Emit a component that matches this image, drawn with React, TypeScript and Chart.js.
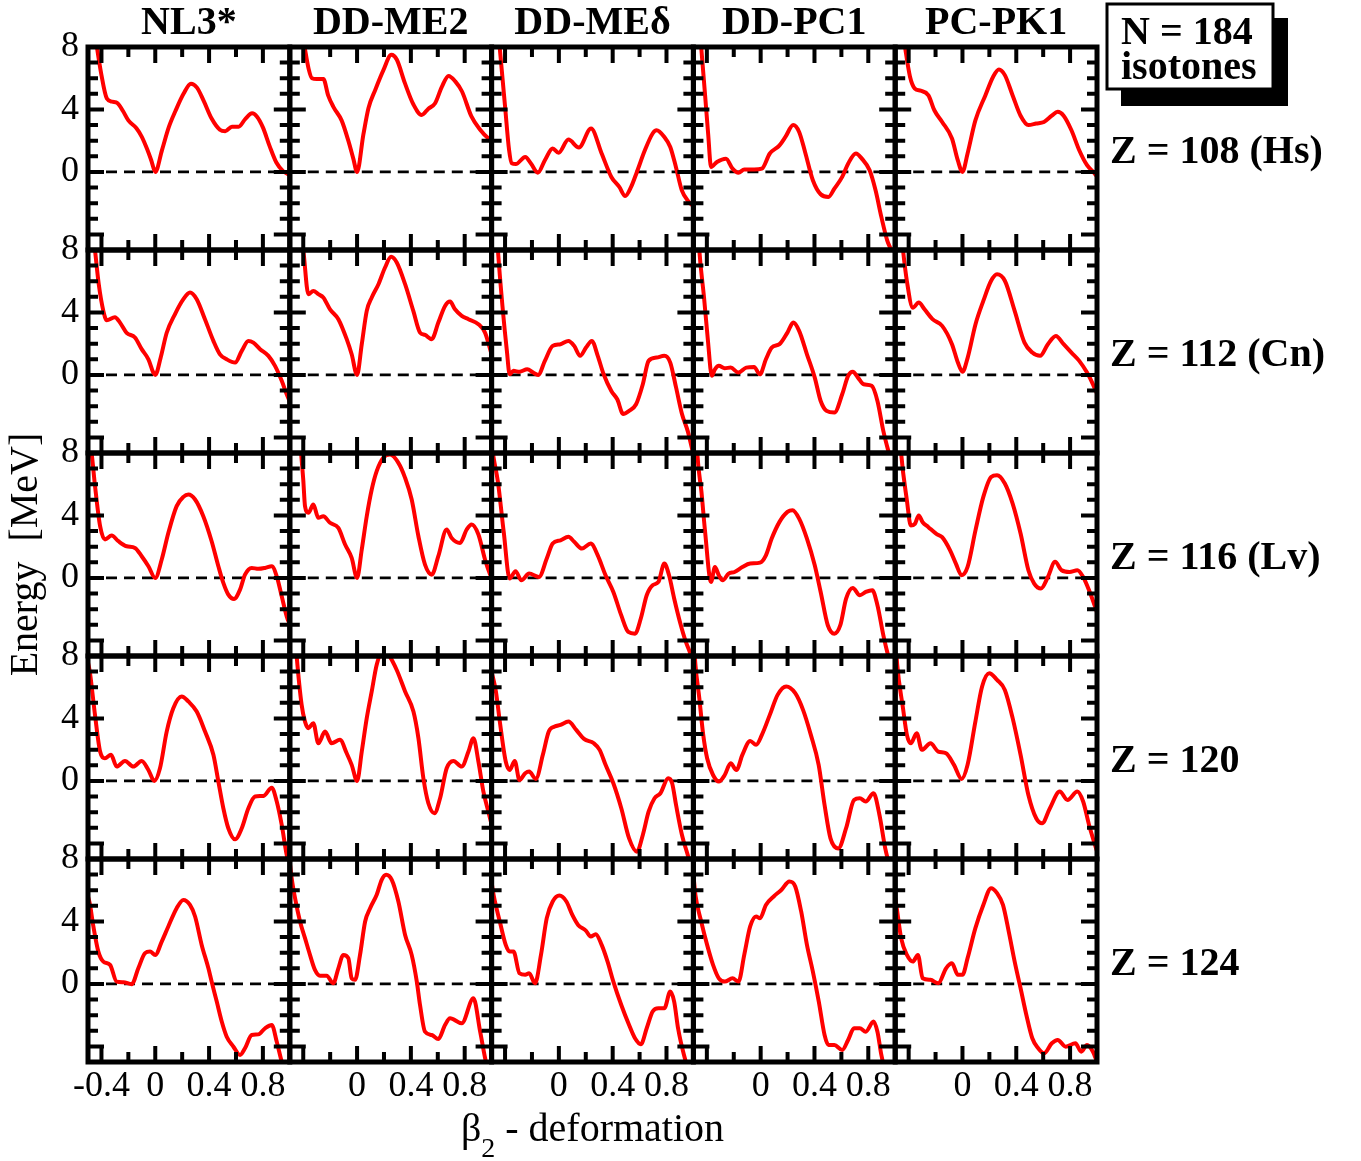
import React, { useEffect, useRef } from 'react';
import { Chart, registerables } from 'chart.js';

Chart.register(...registerables);

type Pt = [number, number];

const SERIF = "'Liberation Serif', 'Times New Roman', Times, serif";

const MODELS = ['NL3*', 'DD-ME2', 'DD-MEδ', 'DD-PC1', 'PC-PK1'];
const ISOTONES = ['Z = 108 (Hs)', 'Z = 112 (Cn)', 'Z = 116 (Lv)', 'Z = 120', 'Z = 124'];
const LEGEND_LINES = ['N = 184', 'isotones'];
const Y_TITLE = 'Energy  [MeV]';
const X_TITLE_MAIN = 'β';
const X_TITLE_SUB = '2';
const X_TITLE_REST = ' - deformation';

const X_MIN = -0.5;
const X_MAX = 1.0;
const Y_MIN = -5;
const Y_MAX = 8;
const X_TICK_LABELS_FIRST = [-0.4, 0, 0.4, 0.8];
const X_TICK_LABELS = [0, 0.4, 0.8];
const Y_TICK_LABELS = [0, 4, 8];
const X_MAJOR = [-0.4, 0, 0.4, 0.8];
const X_MINOR = [-0.2, 0.2, 0.6];
const Y_MAJOR = [-4, 0, 4];
const Y_MINOR = [-3, -2, -1, 1, 2, 3, 5, 6, 7];

// ---- Z = 108 ----
const nl3_108: Pt[] = [[-0.5, 12.5], [-0.45, 9.0], [-0.4, 6.2], [-0.36, 4.7], [-0.32, 4.5], [-0.28, 4.4], [-0.24, 3.9], [-0.2, 3.3], [-0.14, 2.8], [-0.1, 2.25], [-0.06, 1.45], [-0.03, 0.75], [0, 0], [0.05, 1.4], [0.1, 2.85], [0.15, 3.9], [0.21, 5.0], [0.265, 5.65], [0.31, 5.4], [0.36, 4.55], [0.42, 3.4], [0.48, 2.7], [0.52, 2.6], [0.57, 2.9], [0.62, 2.9], [0.67, 3.4], [0.72, 3.75], [0.755, 3.55], [0.8, 2.85], [0.85, 1.65], [0.9, 0.6], [0.95, 0.05], [1.0, -0.2]];
const me2_108: Pt[] = [[-0.5, 14], [-0.44, 10.5], [-0.39, 8], [-0.36, 6.6], [-0.335, 6.0], [-0.3, 5.95], [-0.25, 5.95], [-0.215, 4.9], [-0.175, 4.15], [-0.115, 3.3], [-0.065, 2.0], [-0.028, 0.85], [0, 0], [0.047, 2.4], [0.085, 4.1], [0.135, 5.25], [0.195, 6.5], [0.255, 7.5], [0.295, 7.2], [0.355, 5.7], [0.42, 4.3], [0.48, 3.65], [0.53, 4.05], [0.58, 4.4], [0.63, 5.45], [0.68, 6.15], [0.73, 5.8], [0.78, 5.15], [0.85, 3.55], [0.915, 2.7], [0.975, 2.15], [1.0, 2.0]];
const med_108: Pt[] = [[-0.5, 14], [-0.44, 8], [-0.4, 4.2], [-0.37, 1.4], [-0.35, 0.55], [-0.32, 0.5], [-0.25, 0.96], [-0.205, 0.5], [-0.156, -0.05], [-0.104, 0.75], [-0.046, 1.5], [-0.002, 1.22], [0.071, 2.07], [0.149, 1.56], [0.239, 2.78], [0.318, 1.18], [0.39, -0.32], [0.449, -0.96], [0.493, -1.54], [0.537, -0.96], [0.58, 0], [0.64, 1.4], [0.697, 2.46], [0.726, 2.67], [0.784, 2.24], [0.828, 1.6], [0.87, 0.32], [0.914, -1.18], [0.964, -1.9], [1.0, -2.2]];
const pc1_108: Pt[] = [[-0.5, 14], [-0.442, 8], [-0.413, 4.9], [-0.39, 2.4], [-0.369, 0.32], [-0.325, 0.64], [-0.258, 0.85], [-0.209, 0.21], [-0.165, -0.05], [-0.122, 0.15], [-0.049, 0.15], [0.009, 0.21], [0.068, 1.18], [0.14, 1.7], [0.184, 2.24], [0.242, 3.0], [0.286, 2.56], [0.33, 1.28], [0.388, -0.53], [0.446, -1.43], [0.504, -1.6], [0.548, -1.07], [0.606, -0.32], [0.65, 0.53], [0.708, 1.18], [0.752, 0.85], [0.81, 0.1], [0.854, -1.18], [0.897, -2.88], [0.941, -4.4], [0.97, -5.0], [1.0, -5.8]];
const pk1_108: Pt[] = [[-0.5, 12.5], [-0.427, 8], [-0.39, 6.1], [-0.354, 5.34], [-0.311, 5.2], [-0.253, 4.9], [-0.209, 3.95], [-0.151, 3.2], [-0.078, 2.14], [-0.035, 0.75], [0, 0], [0.038, 1.18], [0.096, 3.3], [0.17, 4.9], [0.228, 6.1], [0.271, 6.56], [0.315, 6.2], [0.373, 4.9], [0.432, 3.6], [0.49, 3.0], [0.548, 3.1], [0.606, 3.2], [0.664, 3.6], [0.708, 3.85], [0.752, 3.6], [0.81, 2.67], [0.868, 1.39], [0.926, 0.43], [0.979, -0.06], [1.0, -0.3]];

// ---- Z = 112 ----
const nl3_112: Pt[] = [[-0.5, 12], [-0.448, 8], [-0.42, 5.8], [-0.386, 4.1], [-0.361, 3.5], [-0.3, 3.7], [-0.262, 3.35], [-0.213, 2.7], [-0.151, 2.4], [-0.101, 1.65], [-0.051, 1.0], [-0.014, 0.15], [0, 0], [0.04, 1.1], [0.085, 2.7], [0.147, 3.9], [0.209, 4.85], [0.258, 5.28], [0.308, 4.85], [0.37, 3.55], [0.432, 2.18], [0.481, 1.32], [0.531, 1.0], [0.593, 0.79], [0.643, 1.54], [0.692, 2.18], [0.729, 2.07], [0.779, 1.65], [0.841, 1.22], [0.89, 0.58], [0.94, -0.38], [0.977, -1.24], [1.0, -1.7]];
const me2_112: Pt[] = [[-0.5, 14], [-0.45, 10.5], [-0.4, 8], [-0.362, 5.17], [-0.325, 5.38], [-0.288, 5.17], [-0.251, 4.96], [-0.201, 4.2], [-0.139, 3.57], [-0.077, 2.29], [-0.04, 1.32], [0, 0], [0.035, 1.97], [0.072, 4.1], [0.109, 4.96], [0.159, 5.81], [0.208, 6.88], [0.253, 7.56], [0.295, 7.2], [0.357, 5.81], [0.418, 4.1], [0.468, 2.71], [0.505, 2.56], [0.555, 2.29], [0.604, 3.35], [0.654, 4.42], [0.691, 4.7], [0.728, 4.2], [0.778, 3.78], [0.828, 3.57], [0.902, 3.25], [0.951, 2.71], [0.989, 1.65], [1.0, 1.3]];
const med_112: Pt[] = [[-0.5, 15], [-0.453, 8], [-0.416, 4.1], [-0.386, 1.5], [-0.366, 0.04], [-0.337, 0.26], [-0.293, 0.2], [-0.235, 0.36], [-0.191, 0.15], [-0.154, 0], [-0.104, 0.9], [-0.046, 1.86], [0.012, 1.97], [0.071, 2.18], [0.114, 1.86], [0.158, 1.22], [0.202, 1.75], [0.245, 2.18], [0.289, 1.22], [0.333, 0.04], [0.39, -1.03], [0.434, -1.56], [0.478, -2.5], [0.522, -2.3], [0.574, -1.88], [0.624, -0.6], [0.667, 0.9], [0.726, 1.11], [0.784, 1.22], [0.828, 0.79], [0.871, -0.8], [0.915, -2.5], [0.958, -3.6], [1.0, -5.1]];
const pc1_112: Pt[] = [[-0.5, 15], [-0.456, 8], [-0.421, 4.96], [-0.392, 2.2], [-0.363, -0.06], [-0.34, 0.36], [-0.311, 0.58], [-0.267, 0.43], [-0.223, 0.47], [-0.165, 0.15], [-0.107, 0.47], [-0.049, 0.51], [-0.006, 0.04], [0.039, 1.0], [0.082, 1.75], [0.14, 1.97], [0.199, 2.71], [0.242, 3.35], [0.286, 2.82], [0.344, 1.32], [0.402, -0.17], [0.446, -1.67], [0.49, -2.3], [0.548, -2.41], [0.606, -1.24], [0.65, -0.06], [0.685, 0.21], [0.723, -0.17], [0.766, -0.6], [0.825, -0.7], [0.868, -1.67], [0.912, -3.6], [0.956, -5.1], [1.0, -6.5]];
const pk1_112: Pt[] = [[-0.5, 13], [-0.442, 8], [-0.413, 6.0], [-0.369, 4.3], [-0.325, 4.64], [-0.282, 4.2], [-0.223, 3.57], [-0.151, 3.14], [-0.078, 1.97], [-0.034, 0.79], [0, 0.2], [0.039, 1.11], [0.097, 3.25], [0.155, 4.74], [0.213, 6.03], [0.257, 6.45], [0.315, 6.03], [0.388, 4.1], [0.461, 2.07], [0.519, 1.43], [0.577, 1.22], [0.635, 1.97], [0.694, 2.5], [0.752, 1.97], [0.81, 1.43], [0.868, 0.9], [0.926, 0.15], [0.97, -0.6], [1.0, -1.2]];

// ---- Z = 116 ----
const nl3_116: Pt[] = [[-0.5, 9.6], [-0.473, 8], [-0.448, 5.9], [-0.41, 3.31], [-0.374, 2.46], [-0.324, 2.71], [-0.274, 2.35], [-0.213, 2.03], [-0.151, 1.92], [-0.101, 1.39], [-0.051, 0.75], [0, 0], [0.048, 1.18], [0.097, 2.88], [0.159, 4.6], [0.209, 5.19], [0.246, 5.34], [0.296, 5.02], [0.357, 3.95], [0.419, 2.35], [0.469, 0.75], [0.506, -0.32], [0.543, -1.07], [0.585, -1.35], [0.63, -0.75], [0.667, 0.21], [0.717, 0.64], [0.766, 0.58], [0.816, 0.64], [0.866, 0.75], [0.903, 0.1], [0.94, -1.18], [0.977, -2.46], [1.0, -3.0]];
const me2_116: Pt[] = [[-0.5, 20], [-0.45, 11.5], [-0.416, 8], [-0.4, 6.3], [-0.387, 4.6], [-0.362, 4.17], [-0.325, 4.7], [-0.288, 3.85], [-0.251, 3.95], [-0.201, 3.53], [-0.139, 3.2], [-0.089, 2.14], [-0.04, 1.28], [0, 0], [0.035, 1.82], [0.072, 3.95], [0.109, 5.66], [0.146, 6.84], [0.195, 7.7], [0.245, 7.9], [0.307, 7.37], [0.357, 6.41], [0.406, 5.02], [0.456, 2.67], [0.505, 0.85], [0.555, 0.21], [0.604, 1.39], [0.666, 3.1], [0.703, 2.56], [0.765, 2.24], [0.815, 3.1], [0.852, 3.42], [0.902, 2.78], [0.951, 1.18], [0.989, 0.21], [1.0, 0]];
const med_116: Pt[] = [[-0.5, 8.5], [-0.483, 7.6], [-0.453, 6.15], [-0.41, 2.95], [-0.366, -0.04], [-0.322, 0.43], [-0.279, -0.15], [-0.221, 0.28], [-0.148, 0.06], [-0.09, 1.24], [-0.046, 2.2], [0.012, 2.41], [0.071, 2.63], [0.114, 2.31], [0.172, 1.88], [0.237, 2.2], [0.289, 1.45], [0.347, 0.17], [0.405, -0.9], [0.464, -2.4], [0.516, -3.46], [0.566, -3.57], [0.609, -2.6], [0.653, -1.11], [0.697, -0.47], [0.74, -0.26], [0.784, 0.92], [0.819, 0.17], [0.857, -1.32], [0.9, -2.82], [0.944, -4.1], [0.973, -4.74], [1.0, -5.4]];
const pc1_116: Pt[] = [[-0.5, 14], [-0.471, 8], [-0.44, 5.5], [-0.413, 2.95], [-0.369, -0.26], [-0.34, 0.7], [-0.311, 0.17], [-0.282, -0.15], [-0.238, 0.28], [-0.194, 0.38], [-0.136, 0.7], [-0.078, 0.92], [-0.005, 0.98], [0.039, 1.45], [0.082, 2.52], [0.14, 3.59], [0.199, 4.23], [0.237, 4.34], [0.286, 3.8], [0.344, 2.52], [0.402, 0.81], [0.446, -0.9], [0.499, -3.03], [0.548, -3.57], [0.592, -3.03], [0.635, -1.32], [0.685, -0.64], [0.737, -1.11], [0.781, -0.9], [0.83, -0.79], [0.868, -1.75], [0.912, -3.68], [0.947, -4.96], [1.0, -6.5]];
const pk1_116: Pt[] = [[-0.5, 14], [-0.456, 8], [-0.413, 4.96], [-0.384, 3.36], [-0.354, 3.46], [-0.325, 4.0], [-0.296, 3.57], [-0.253, 3.25], [-0.194, 2.82], [-0.151, 2.61], [-0.092, 1.77], [-0.049, 0.92], [-0.006, 0.17], [0.038, 0.7], [0.097, 3.06], [0.155, 5.19], [0.213, 6.47], [0.257, 6.58], [0.315, 6.05], [0.373, 4.76], [0.432, 2.84], [0.49, 0.49], [0.533, -0.36], [0.583, -0.68], [0.635, 0.06], [0.688, 1.03], [0.737, 0.49], [0.796, 0.38], [0.854, 0.49], [0.897, 0.06], [0.941, -0.79], [0.985, -1.82], [1.0, -2.2]];

// ---- Z = 120 ----
const nl3_120: Pt[] = [[-0.5, 7.6], [-0.485, 6.9], [-0.448, 4.23], [-0.41, 1.88], [-0.374, 1.45], [-0.329, 1.67], [-0.287, 0.92], [-0.225, 1.28], [-0.163, 0.92], [-0.101, 1.28], [-0.051, 0.7], [-0.007, 0], [0.035, 0.81], [0.085, 3.16], [0.134, 4.66], [0.196, 5.41], [0.246, 5.09], [0.308, 4.44], [0.37, 3.16], [0.432, 1.67], [0.469, -0.04], [0.506, -1.75], [0.543, -3.03], [0.593, -3.74], [0.643, -3.03], [0.692, -1.75], [0.742, -1.0], [0.804, -0.96], [0.866, -0.43], [0.903, -1.32], [0.94, -2.82], [0.977, -4.74], [1.0, -5.5]];
const me2_120: Pt[] = [[-0.5, 14], [-0.449, 8], [-0.412, 4.87], [-0.387, 3.8], [-0.362, 3.38], [-0.325, 3.7], [-0.288, 2.41], [-0.238, 3.16], [-0.189, 2.41], [-0.127, 2.63], [-0.077, 1.77], [-0.04, 1.03], [0, 0], [0.035, 1.88], [0.072, 4.02], [0.109, 5.73], [0.146, 7.44], [0.19, 8.3], [0.232, 8.1], [0.294, 7.12], [0.357, 5.73], [0.419, 4.44], [0.456, 2.74], [0.493, 0.17], [0.53, -1.43], [0.575, -2.07], [0.617, -1.11], [0.666, 0.81], [0.716, 1.28], [0.778, 0.92], [0.828, 1.88], [0.865, 2.74], [0.902, 1.24], [0.939, -0.68], [0.976, -1.97], [1.0, -2.8]];
const med_120: Pt[] = [[-0.5, 7.0], [-0.468, 5.73], [-0.439, 3.8], [-0.395, 1.24], [-0.366, 0.7], [-0.328, 1.28], [-0.293, 0.06], [-0.25, 0.49], [-0.221, 0.6], [-0.171, 0.13], [-0.119, 1.67], [-0.075, 3.16], [-0.031, 3.48], [0.012, 3.59], [0.071, 3.8], [0.129, 3.27], [0.187, 2.69], [0.26, 2.41], [0.303, 1.99], [0.347, 1.03], [0.405, -0.15], [0.464, -1.75], [0.522, -3.68], [0.58, -4.53], [0.624, -3.46], [0.667, -1.97], [0.711, -1.11], [0.755, -0.79], [0.813, 0.17], [0.842, -0.15], [0.871, -1.54], [0.915, -3.46], [0.958, -4.74], [1.0, -6]];
const pc1_120: Pt[] = [[-0.5, 9.5], [-0.485, 7.44], [-0.456, 5.3], [-0.427, 2.95], [-0.398, 1.45], [-0.354, 0.38], [-0.311, -0.04], [-0.267, 0.38], [-0.223, 1.13], [-0.18, 0.7], [-0.136, 1.67], [-0.078, 2.56], [-0.034, 2.31], [0.009, 2.95], [0.068, 4.23], [0.126, 5.51], [0.19, 6.05], [0.257, 5.62], [0.315, 4.55], [0.373, 2.95], [0.431, 1.03], [0.475, -1.54], [0.519, -3.68], [0.577, -4.32], [0.635, -3.03], [0.694, -1.22], [0.737, -1.11], [0.781, -1.32], [0.839, -0.79], [0.883, -2.18], [0.926, -4.32], [0.956, -5.38], [1.0, -7]];
const pk1_120: Pt[] = [[-0.5, 9.5], [-0.485, 7.44], [-0.442, 4.66], [-0.413, 2.95], [-0.384, 2.41], [-0.34, 3.06], [-0.302, 1.99], [-0.238, 2.41], [-0.18, 1.88], [-0.122, 1.77], [-0.063, 1.03], [-0.006, 0.13], [0.038, 1.03], [0.096, 3.8], [0.146, 6.05], [0.199, 6.9], [0.257, 6.47], [0.315, 5.83], [0.373, 4.02], [0.432, 1.67], [0.49, -0.9], [0.548, -2.39], [0.592, -2.71], [0.65, -1.75], [0.723, -0.68], [0.781, -1.22], [0.854, -0.68], [0.897, -1.32], [0.941, -2.82], [0.985, -4.1], [1.0, -4.5]];

// ---- Z = 124 ----
const nl3_124: Pt[] = [[-0.5, 5.6], [-0.485, 5.06], [-0.46, 3.68], [-0.423, 2.07], [-0.386, 1.43], [-0.336, 1.22], [-0.287, 0.15], [-0.237, 0.11], [-0.175, -0.02], [-0.126, 1.0], [-0.076, 1.97], [-0.039, 2.07], [0, 1.86], [0.048, 2.71], [0.097, 3.68], [0.159, 4.85], [0.209, 5.38], [0.258, 5.06], [0.296, 4.32], [0.345, 2.5], [0.395, 1.0], [0.419, 0.15], [0.457, -1.13], [0.494, -2.41], [0.531, -3.38], [0.581, -4.02], [0.63, -4.55], [0.667, -4.12], [0.717, -3.27], [0.766, -3.23], [0.816, -2.84], [0.866, -2.63], [0.903, -3.7], [0.94, -4.98], [1.0, -6.5]];
const me2_124: Pt[] = [[-0.5, 7.8], [-0.486, 6.77], [-0.461, 5.49], [-0.424, 4.0], [-0.387, 2.93], [-0.35, 1.86], [-0.313, 0.9], [-0.276, 0.53], [-0.226, 0.53], [-0.177, 0.04], [-0.139, 1.0], [-0.102, 1.86], [-0.065, 1.65], [-0.04, 0.36], [-0.015, 0.26], [0.022, 1.86], [0.06, 4.0], [0.097, 4.85], [0.146, 5.71], [0.183, 6.67], [0.216, 6.99], [0.258, 6.67], [0.307, 5.28], [0.357, 3.14], [0.406, 1.86], [0.444, 0.15], [0.468, -1.35], [0.505, -3.06], [0.555, -3.27], [0.604, -3.53], [0.654, -2.63], [0.691, -2.2], [0.778, -2.52], [0.865, -0.92], [0.915, -3.06], [0.952, -4.76], [1.0, -6.5]];
const med_124: Pt[] = [[-0.5, 6.5], [-0.483, 5.6], [-0.439, 4.0], [-0.395, 2.5], [-0.366, 2.07], [-0.337, 2.07], [-0.293, 0.68], [-0.25, 0.58], [-0.221, 0.68], [-0.177, 0.04], [-0.133, 1.86], [-0.09, 4.21], [-0.046, 5.28], [0.004, 5.66], [0.056, 5.28], [0.1, 4.42], [0.143, 3.78], [0.202, 3.4], [0.237, 3.03], [0.274, 3.18], [0.318, 2.5], [0.362, 1.43], [0.405, 0.15], [0.464, -1.35], [0.522, -2.63], [0.566, -3.48], [0.609, -3.87], [0.653, -2.84], [0.697, -1.77], [0.74, -1.56], [0.784, -1.56], [0.828, -0.49], [0.857, -1.13], [0.886, -2.84], [0.93, -4.55], [1.0, -6.5]];
const pc1_124: Pt[] = [[-0.5, 7], [-0.485, 5.7], [-0.442, 4.0], [-0.398, 2.5], [-0.354, 1.22], [-0.311, 0.36], [-0.267, 0.15], [-0.209, 0.36], [-0.165, 0.15], [-0.122, 1.86], [-0.078, 3.68], [-0.034, 4.32], [-0.005, 4.21], [0.039, 5.06], [0.097, 5.6], [0.155, 6.03], [0.213, 6.56], [0.257, 6.24], [0.301, 4.64], [0.344, 2.5], [0.388, 0.79], [0.432, -1.13], [0.475, -3.27], [0.504, -3.91], [0.548, -3.91], [0.606, -4.23], [0.65, -3.59], [0.694, -2.84], [0.737, -2.84], [0.781, -3.06], [0.839, -2.41], [0.868, -3.06], [0.897, -4.55], [1.0, -8]];
const pk1_124: Pt[] = [[-0.5, 5.5], [-0.485, 4.64], [-0.456, 2.93], [-0.413, 1.86], [-0.369, 1.43], [-0.331, 1.86], [-0.296, 0.36], [-0.238, 0.26], [-0.18, 0.04], [-0.122, 1.0], [-0.078, 1.32], [-0.034, 0.58], [0, 0.58], [0.038, 1.65], [0.096, 3.57], [0.155, 5.06], [0.213, 6.13], [0.257, 5.81], [0.301, 5.06], [0.344, 3.35], [0.388, 1.43], [0.432, -0.28], [0.475, -1.99], [0.519, -3.48], [0.563, -4.12], [0.606, -4.44], [0.664, -3.8], [0.708, -3.59], [0.767, -4.02], [0.839, -3.8], [0.883, -4.34], [0.926, -3.91], [0.97, -4.34], [1.0, -5.0]];

const CURVES: Pt[][][] = [
  [nl3_108, me2_108, med_108, pc1_108, pk1_108],
  [nl3_112, me2_112, med_112, pc1_112, pk1_112],
  [nl3_116, me2_116, med_116, pc1_116, pk1_116],
  [nl3_120, me2_120, med_120, pc1_120, pk1_120],
  [nl3_124, me2_124, med_124, pc1_124, pk1_124],
];

const NROWS = ISOTONES.length;
const NCOLS = MODELS.length;

const fmtTick = (v: number) => (v === 0 ? '0' : String(Math.round(v * 10) / 10));

function buildScales() {
  const scales: any = {};
  for (let c = 0; c < NCOLS; c++) {
    const labels = c === 0 ? X_TICK_LABELS_FIRST : X_TICK_LABELS;
    scales['x' + c] = {
      type: 'linear',
      axis: 'x',
      position: 'bottom',
      stack: 'cols',
      stackWeight: 1,
      weight: c,
      min: X_MIN,
      max: X_MAX,
      offset: false,
      grid: { display: false, drawTicks: false },
      border: { display: false },
      ticks: {
        color: '#000',
        font: { family: SERIF, size: 36 },
        padding: 3,
        autoSkip: false,
        maxRotation: 0,
        minRotation: 0,
        callback: (v: any) => fmtTick(Number(v)),
      },
      afterBuildTicks: (s: any) => {
        s.ticks = labels.map((v) => ({ value: v }));
      },
      afterFit: (s: any) => {
        s.height = 99;
      },
    };
  }
  for (let r = 0; r < NROWS; r++) {
    scales['y' + r] = {
      type: 'linear',
      axis: 'y',
      position: 'left',
      stack: 'rows',
      stackWeight: 1,
      weight: 10 - r,
      min: Y_MIN,
      max: Y_MAX,
      grid: { display: false, drawTicks: false },
      border: { display: false },
      ticks: {
        color: '#000',
        font: { family: SERIF, size: 36 },
        padding: 9,
        autoSkip: false,
        callback: (v: any) => fmtTick(Number(v)),
      },
      afterBuildTicks: (s: any) => {
        s.ticks = Y_TICK_LABELS.map((v) => ({ value: v }));
      },
      afterFit: (s: any) => {
        s.width = 88;
      },
    };
  }
  return scales;
}

function buildDatasets() {
  const ds: any[] = [];
  for (let r = 0; r < NROWS; r++) {
    for (let c = 0; c < NCOLS; c++) {
      ds.push({
        label: MODELS[c] + ' ' + ISOTONES[r],
        data: CURVES[r][c].map(([x, y]) => ({ x, y })),
        xAxisID: 'x' + c,
        yAxisID: 'y' + r,
        borderColor: '#ff0000',
        backgroundColor: '#ff0000',
        borderWidth: 4,
        pointRadius: 0,
        cubicInterpolationMode: 'monotone',
        capBezierPoints: false,
        fill: false,
        order: 0,
      });
      ds.push({
        label: 'zero',
        data: [{ x: X_MIN, y: 0 }, { x: X_MAX, y: 0 }],
        xAxisID: 'x' + c,
        yAxisID: 'y' + r,
        borderColor: '#000',
        borderWidth: 2.8,
        borderDash: [11, 7],
        pointRadius: 0,
        fill: false,
        order: 1,
      });
    }
  }
  return ds;
}

const panelClip = {
  id: 'panelClip',
  beforeDatasetDraw(chart: any, args: any) {
    const meta = args.meta;
    const xs = chart.scales[meta.xAxisID];
    const ys = chart.scales[meta.yAxisID];
    const ctx = chart.ctx;
    ctx.save();
    ctx.beginPath();
    ctx.rect(xs.left, ys.top, xs.right - xs.left, ys.bottom - ys.top);
    ctx.clip();
  },
  afterDatasetDraw(chart: any) {
    chart.ctx.restore();
  },
};

const framePlugin = {
  id: 'frames',
  afterDatasetsDraw(chart: any) {
    const ctx = chart.ctx;
    ctx.save();
    ctx.strokeStyle = '#000';
    ctx.lineCap = 'butt';
    for (let r = 0; r < NROWS; r++) {
      for (let c = 0; c < NCOLS; c++) {
        const xs = chart.scales['x' + c];
        const ys = chart.scales['y' + r];
        const L = xs.left, R = xs.right, T = ys.top, B = ys.bottom;
        ctx.lineWidth = 4;
        ctx.beginPath();
        const xt = (v: number, len: number) => {
          const px = xs.getPixelForValue(v);
          ctx.moveTo(px, T);
          ctx.lineTo(px, T + len);
          ctx.moveTo(px, B);
          ctx.lineTo(px, B - len);
        };
        const yt = (v: number, len: number) => {
          const py = ys.getPixelForValue(v);
          ctx.moveTo(L, py);
          ctx.lineTo(L + len, py);
          ctx.moveTo(R, py);
          ctx.lineTo(R - len, py);
        };
        X_MAJOR.forEach((v) => xt(v, 16));
        X_MINOR.forEach((v) => xt(v, 10));
        Y_MAJOR.forEach((v) => yt(v, 16));
        Y_MINOR.forEach((v) => yt(v, 10));
        ctx.stroke();
        ctx.lineWidth = 5;
        ctx.strokeRect(L, T, R - L, B - T);
      }
    }
    ctx.restore();
  },
  afterDraw(chart: any) {
    const ctx = chart.ctx;
    const area = chart.chartArea;
    ctx.save();
    ctx.fillStyle = '#000';
    // column titles
    ctx.font = `bold 40px ${SERIF}`;
    ctx.textAlign = 'center';
    ctx.textBaseline = 'alphabetic';
    MODELS.forEach((m, c) => {
      const s = chart.scales['x' + c];
      ctx.fillText(m, (s.left + s.right) / 2, 34);
    });
    // row labels
    ctx.textAlign = 'left';
    ISOTONES.forEach((t, r) => {
      const s = chart.scales['y' + r];
      ctx.fillText(t, area.right + 13, (s.top + s.bottom) / 2 + 14);
    });
    // legend box
    ctx.fillStyle = '#000';
    ctx.fillRect(1121, 18, 167, 88);
    ctx.fillStyle = '#fff';
    ctx.fillRect(1107, 4, 166, 85);
    ctx.strokeStyle = '#000';
    ctx.lineWidth = 3;
    ctx.strokeRect(1107, 4, 166, 85);
    ctx.fillStyle = '#000';
    ctx.textAlign = 'left';
    ctx.fillText(LEGEND_LINES[0], 1121, 44);
    ctx.fillText(LEGEND_LINES[1], 1121, 79);
    // y title
    ctx.font = `40px ${SERIF}`;
    ctx.save();
    ctx.translate(26, (area.top + area.bottom) / 2);
    ctx.rotate(-Math.PI / 2);
    ctx.textAlign = 'center';
    ctx.textBaseline = 'middle';
    ctx.fillText(Y_TITLE, 0, 0);
    ctx.restore();
    // x title with subscript
    const mainFont = `40px ${SERIF}`;
    const subFont = `28px ${SERIF}`;
    ctx.font = mainFont;
    const wMain = ctx.measureText(X_TITLE_MAIN).width;
    const wRest = ctx.measureText(X_TITLE_REST).width;
    ctx.font = subFont;
    const wSub = ctx.measureText(X_TITLE_SUB).width;
    const total = wMain + wSub + wRest;
    const cx = (area.left + area.right) / 2;
    let x = cx - total / 2;
    ctx.textAlign = 'left';
    ctx.textBaseline = 'alphabetic';
    ctx.font = mainFont;
    ctx.fillText(X_TITLE_MAIN, x, 1141);
    x += wMain;
    ctx.font = subFont;
    ctx.fillText(X_TITLE_SUB, x, 1157);
    x += wSub;
    ctx.font = mainFont;
    ctx.fillText(X_TITLE_REST, x, 1141);
    ctx.restore();
  },
};

export default function App() {
  const ref = useRef<HTMLCanvasElement | null>(null);
  useEffect(() => {
    if (!ref.current) return;
    const chart = new Chart(ref.current, {
      type: 'line',
      data: { datasets: buildDatasets() },
      options: {
        animation: false,
        responsive: false,
        devicePixelRatio: 1,
        layout: { padding: { top: 47, right: 264, left: 0, bottom: 0 } },
        scales: buildScales(),
        plugins: {
          legend: { display: false },
          tooltip: { enabled: false },
        },
        events: [],
      } as any,
      plugins: [panelClip, framePlugin],
    });
    return () => chart.destroy();
  }, []);
  return (
    <div style={{ position: 'absolute', left: 0, top: 0, width: 1361, height: 1161, background: '#fff' }}>
      <canvas ref={ref} width={1361} height={1161} style={{ display: 'block' }} />
    </div>
  );
}
